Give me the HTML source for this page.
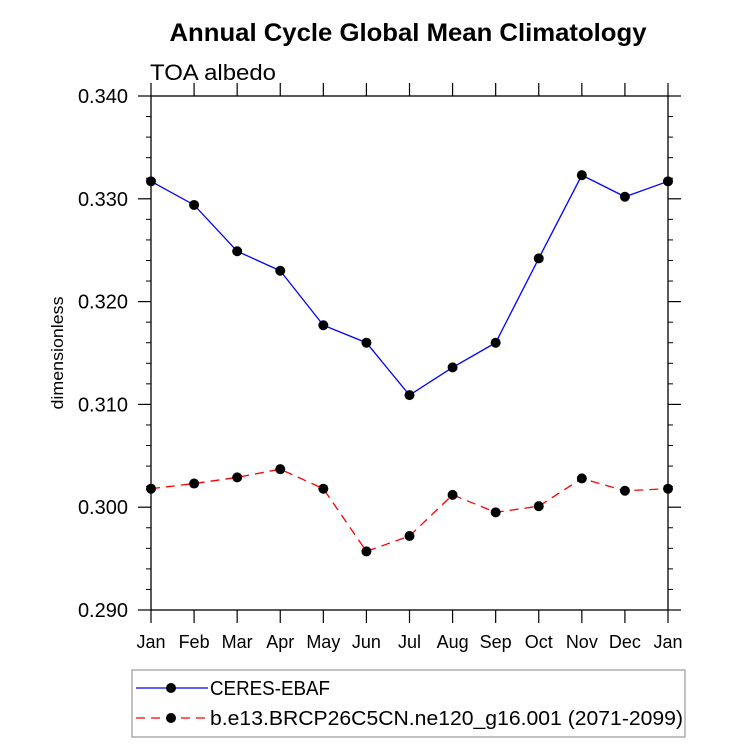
<!DOCTYPE html>
<html><head><meta charset="utf-8"><style>
html,body{margin:0;padding:0;background:#fff;}
svg{display:block;font-family:"Liberation Sans",sans-serif;}
</style></head><body>
<svg id="chart" width="733" height="744" viewBox="0 0 733 744">
<text x="408" y="41" text-anchor="middle" font-size="25" font-weight="bold" textLength="477" lengthAdjust="spacingAndGlyphs">Annual Cycle Global Mean Climatology</text>
<text x="150" y="80" font-size="22" textLength="126" lengthAdjust="spacingAndGlyphs">TOA albedo</text>
<text transform="translate(63,353) rotate(-90)" text-anchor="middle" font-size="17" textLength="113" lengthAdjust="spacingAndGlyphs">dimensionless</text>
<g id="axes"></g>
<g id="series"></g>
<g id="legend">
<rect x="132" y="670" width="553" height="67" fill="#fff" stroke="#999" stroke-width="1.2"/>
<g>
<line x1="136" y1="688" x2="208" y2="688" stroke="#0000ff" stroke-width="1.3"/>
<circle cx="171" cy="688" r="5" fill="#000"/>
<text x="210" y="695" font-size="20" textLength="120" lengthAdjust="spacingAndGlyphs">CERES-EBAF</text>
</g>
<g>
<line x1="136" y1="718" x2="208" y2="718" stroke="#ff0000" stroke-width="1.3" stroke-dasharray="9,6"/>
<circle cx="171" cy="718" r="5" fill="#000"/>
<text x="210" y="725" font-size="20" textLength="473" lengthAdjust="spacingAndGlyphs">b.e13.BRCP26C5CN.ne120_g16.001 (2071-2099)</text>
</g>
</g>
</svg>
<script>
const months = ["Jan","Feb","Mar","Apr","May","Jun","Jul","Aug","Sep","Oct","Nov","Dec","Jan"];
const ceresValues = [0.3317,0.3294,0.3249,0.3230,0.3177,0.3160,0.3109,0.3136,0.3160,0.3242,0.3323,0.3302,0.3317];
const modelValues = [0.3018,0.3023,0.3029,0.3037,0.3018,0.2957,0.2972,0.3012,0.2995,0.3001,0.3028,0.3016,0.3018];
const yTicks = [0.290,0.300,0.310,0.320,0.330,0.340];
const yTickLabels = ["0.290","0.300","0.310","0.320","0.330","0.340"];

const NS="http://www.w3.org/2000/svg";
const X0=151,X1=668,Y0=96,Y1=610,YMIN=0.290,YMAX=0.340;
const xs=i=>X0+(X1-X0)*i/(months.length-1);
const ys=v=>Y1-(v-YMIN)/(YMAX-YMIN)*(Y1-Y0);
function mk(tag,attrs,parent){const e=document.createElementNS(NS,tag);for(const k in attrs)e.setAttribute(k,attrs[k]);parent.appendChild(e);return e;}
const axes=document.getElementById('axes');
const frame=mk('rect',{x:X0,y:Y0,width:X1-X0,height:Y1-Y0,fill:'none',stroke:'#000','stroke-width':1.3},axes);


for(let i=0;i<yTicks.length;i++){
  const y=ys(yTicks[i]);
  mk('line',{x1:X0-13,y1:y,x2:X0,y2:y,stroke:'#000','stroke-width':1.2},axes);
  mk('line',{x1:X1,y1:y,x2:X1+13,y2:y,stroke:'#000','stroke-width':1.2},axes);
  const t=mk('text',{x:X0-23,y:y+7,'text-anchor':'end','font-size':20},axes);
  t.textContent=yTickLabels[i];
  
  
  if(i<yTicks.length-1){
    for(let m=1;m<5;m++){
      const ym=ys(yTicks[i]+(yTicks[i+1]-yTicks[i])*m/5);
      mk('line',{x1:X0-5,y1:ym,x2:X0,y2:ym,stroke:'#000','stroke-width':1},axes);
      mk('line',{x1:X1,y1:ym,x2:X1+5,y2:ym,stroke:'#000','stroke-width':1},axes);
    }
  }
}
for(let i=0;i<months.length;i++){
  const x=xs(i);
  mk('line',{x1:x,y1:Y1,x2:x,y2:Y1+13,stroke:'#000','stroke-width':1.2},axes);
  mk('line',{x1:x,y1:Y0-13,x2:x,y2:Y0,stroke:'#000','stroke-width':1.2},axes);
  const t=mk('text',{x:x,y:648,'text-anchor':'middle','font-size':18},axes);
  t.textContent=months[i];
  
  
}
const ser=document.getElementById('series');
function drawSeries(vals,color,dash,name){
  const g=mk('g',{},ser);
  
  
  const pts=vals.map((v,i)=>xs(i)+','+ys(v)).join(' ');
  const a={points:pts,fill:'none',stroke:color,'stroke-width':1.3};
  if(dash)a['stroke-dasharray']=dash;
  mk('polyline',a,g);
  vals.forEach((v,i)=>{
    const c=mk('circle',{cx:xs(i),cy:ys(v),r:5,fill:'#000'},g);
    
    
  });
}
drawSeries(ceresValues,'#0000ff',null,'ceres-ebaf-series');
drawSeries(modelValues,'#ff0000','9,6','model-series');
</script>
</body></html>
